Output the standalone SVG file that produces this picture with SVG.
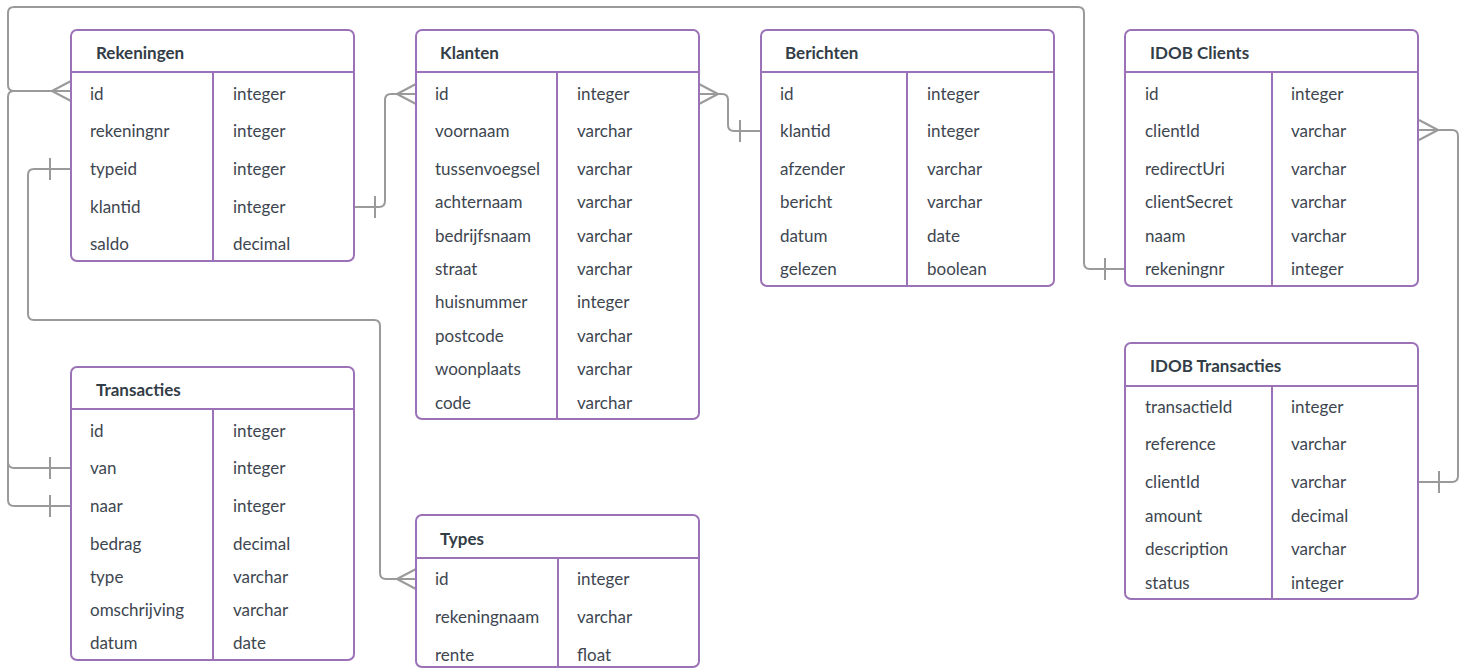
<svg xmlns="http://www.w3.org/2000/svg" width="1468" height="668" viewBox="0 0 1468 668">
<style>
.box{fill:#fff;stroke:#9b72b8;stroke-width:2}
.sep{stroke:#9b72b8;stroke-width:2;fill:none}
.title{font-family:Lato,"Noto Sans",sans-serif;font-weight:bold;font-size:17px;fill:#333d47}
.f{font-family:Lato,"Noto Sans",sans-serif;font-size:17px;fill:#3d4650}
.c{fill:none;stroke:#9a9a9a;stroke-width:2;stroke-linejoin:round}
</style>
<rect width="1468" height="668" fill="#fff"/>
<g id="connectors">
  <path class="c" d="M52,91 H14 Q8,91 8,85 V13 Q8,7 14,7 H1078 Q1084,7 1084,13 V263 Q1084,269 1090,269 H1125"/>
  <line class="c" x1="1105" y1="258" x2="1105" y2="280"/>
  <path class="c" d="M52,91 H14 Q8,91 8,97 V462 Q8,468 14,468 H71"/>
  <path class="c" d="M8,462 V500 Q8,506 14,506 H71"/>
  <line class="c" x1="50" y1="457" x2="50" y2="479"/>
  <line class="c" x1="50" y1="495" x2="50" y2="517"/>
  <path class="c" d="M71,81 L52,91 L71,101 M52,91 H71"/>
  <path class="c" d="M71,169 H34 Q28,169 28,175 V314 Q28,320 34,320 H374 Q380,320 380,326 V573 Q380,579 386,579 H416"/>
  <line class="c" x1="50" y1="158" x2="50" y2="180"/>
  <path class="c" d="M416,569 L397,579 L416,589"/>
  <path class="c" d="M354,207 H379 Q385,207 385,201 V100 Q385,94 391,94 H416"/>
  <line class="c" x1="375" y1="196" x2="375" y2="218"/>
  <path class="c" d="M416,84 L397,94 L416,104"/>
  <path class="c" d="M699,94 H722 Q728,94 728,100 V125 Q728,131 734,131 H761"/>
  <path class="c" d="M699,84 L718,94 L699,104"/>
  <line class="c" x1="740" y1="120" x2="740" y2="142"/>
  <path class="c" d="M1419,130 H1452 Q1458,130 1458,136 V476 Q1458,482 1452,482 H1419"/>
  <path class="c" d="M1419,120 L1438,130 L1419,140"/>
  <line class="c" x1="1439" y1="471" x2="1439" y2="493"/>
</g>
<g id="rekeningen">
  <rect class="box" x="71" y="30" width="283" height="231" rx="6"/>
  <line class="sep" x1="71" y1="72" x2="354" y2="72"/>
  <line class="sep" x1="213" y1="72" x2="213" y2="261"/>
  <text class="title" x="96" y="59">Rekeningen</text>
  <text class="f" x="90" y="100">id</text><text class="f" x="233" y="100">integer</text>
  <text class="f" x="90" y="137">rekeningnr</text><text class="f" x="233" y="137">integer</text>
  <text class="f" x="90" y="175">typeid</text><text class="f" x="233" y="175">integer</text>
  <text class="f" x="90" y="213">klantid</text><text class="f" x="233" y="213">integer</text>
  <text class="f" x="90" y="250">saldo</text><text class="f" x="233" y="250">decimal</text>
</g>
<g id="klanten">
  <rect class="box" x="416" y="30" width="283" height="389" rx="6"/>
  <line class="sep" x1="416" y1="72" x2="699" y2="72"/>
  <line class="sep" x1="557" y1="72" x2="557" y2="419"/>
  <text class="title" x="440" y="59">Klanten</text>
  <text class="f" x="435" y="100">id</text><text class="f" x="577" y="100">integer</text>
  <text class="f" x="435" y="137">voornaam</text><text class="f" x="577" y="137">varchar</text>
  <text class="f" x="435" y="175">tussenvoegsel</text><text class="f" x="577" y="175">varchar</text>
  <text class="f" x="435" y="208">achternaam</text><text class="f" x="577" y="208">varchar</text>
  <text class="f" x="435" y="242">bedrijfsnaam</text><text class="f" x="577" y="242">varchar</text>
  <text class="f" x="435" y="275">straat</text><text class="f" x="577" y="275">varchar</text>
  <text class="f" x="435" y="308">huisnummer</text><text class="f" x="577" y="308">integer</text>
  <text class="f" x="435" y="342">postcode</text><text class="f" x="577" y="342">varchar</text>
  <text class="f" x="435" y="375">woonplaats</text><text class="f" x="577" y="375">varchar</text>
  <text class="f" x="435" y="409">code</text><text class="f" x="577" y="409">varchar</text>
</g>
<g id="berichten">
  <rect class="box" x="761" y="30" width="293" height="256" rx="6"/>
  <line class="sep" x1="761" y1="72" x2="1054" y2="72"/>
  <line class="sep" x1="907" y1="72" x2="907" y2="286"/>
  <text class="title" x="785" y="59">Berichten</text>
  <text class="f" x="780" y="100">id</text><text class="f" x="927" y="100">integer</text>
  <text class="f" x="780" y="137">klantid</text><text class="f" x="927" y="137">integer</text>
  <text class="f" x="780" y="175">afzender</text><text class="f" x="927" y="175">varchar</text>
  <text class="f" x="780" y="208">bericht</text><text class="f" x="927" y="208">varchar</text>
  <text class="f" x="780" y="242">datum</text><text class="f" x="927" y="242">date</text>
  <text class="f" x="780" y="275">gelezen</text><text class="f" x="927" y="275">boolean</text>
</g>
<g id="idob-clients">
  <rect class="box" x="1125" y="30" width="293" height="256" rx="6"/>
  <line class="sep" x1="1125" y1="72" x2="1418" y2="72"/>
  <line class="sep" x1="1272" y1="72" x2="1272" y2="286"/>
  <text class="title" x="1150" y="59">IDOB Clients</text>
  <text class="f" x="1145" y="100">id</text><text class="f" x="1291" y="100">integer</text>
  <text class="f" x="1145" y="137">clientId</text><text class="f" x="1291" y="137">varchar</text>
  <text class="f" x="1145" y="175">redirectUri</text><text class="f" x="1291" y="175">varchar</text>
  <text class="f" x="1145" y="208">clientSecret</text><text class="f" x="1291" y="208">varchar</text>
  <text class="f" x="1145" y="242">naam</text><text class="f" x="1291" y="242">varchar</text>
  <text class="f" x="1145" y="275">rekeningnr</text><text class="f" x="1291" y="275">integer</text>
</g>
<g id="idob-transacties">
  <rect class="box" x="1125" y="343" width="293" height="256" rx="6"/>
  <line class="sep" x1="1125" y1="386" x2="1418" y2="386"/>
  <line class="sep" x1="1272" y1="386" x2="1272" y2="599"/>
  <text class="title" x="1150" y="372">IDOB Transacties</text>
  <text class="f" x="1145" y="413">transactieId</text><text class="f" x="1291" y="413">integer</text>
  <text class="f" x="1145" y="450">reference</text><text class="f" x="1291" y="450">varchar</text>
  <text class="f" x="1145" y="488">clientId</text><text class="f" x="1291" y="488">varchar</text>
  <text class="f" x="1145" y="522">amount</text><text class="f" x="1291" y="522">decimal</text>
  <text class="f" x="1145" y="555">description</text><text class="f" x="1291" y="555">varchar</text>
  <text class="f" x="1145" y="589">status</text><text class="f" x="1291" y="589">integer</text>
</g>
<g id="transacties">
  <rect class="box" x="71" y="367" width="283" height="293" rx="6"/>
  <line class="sep" x1="71" y1="409" x2="354" y2="409"/>
  <line class="sep" x1="213" y1="409" x2="213" y2="660"/>
  <text class="title" x="96" y="396">Transacties</text>
  <text class="f" x="90" y="437">id</text><text class="f" x="233" y="437">integer</text>
  <text class="f" x="90" y="474">van</text><text class="f" x="233" y="474">integer</text>
  <text class="f" x="90" y="512">naar</text><text class="f" x="233" y="512">integer</text>
  <text class="f" x="90" y="550">bedrag</text><text class="f" x="233" y="550">decimal</text>
  <text class="f" x="90" y="583">type</text><text class="f" x="233" y="583">varchar</text>
  <text class="f" x="90" y="616">omschrijving</text><text class="f" x="233" y="616">varchar</text>
  <text class="f" x="90" y="649">datum</text><text class="f" x="233" y="649">date</text>
</g>
<g id="types">
  <rect class="box" x="416" y="515" width="283" height="152" rx="6"/>
  <line class="sep" x1="416" y1="558" x2="699" y2="558"/>
  <line class="sep" x1="558" y1="558" x2="558" y2="667"/>
  <text class="title" x="440" y="545">Types</text>
  <text class="f" x="435" y="585">id</text><text class="f" x="577" y="585">integer</text>
  <text class="f" x="435" y="623">rekeningnaam</text><text class="f" x="577" y="623">varchar</text>
  <text class="f" x="435" y="661">rente</text><text class="f" x="577" y="661">float</text>
</g>
</svg>
